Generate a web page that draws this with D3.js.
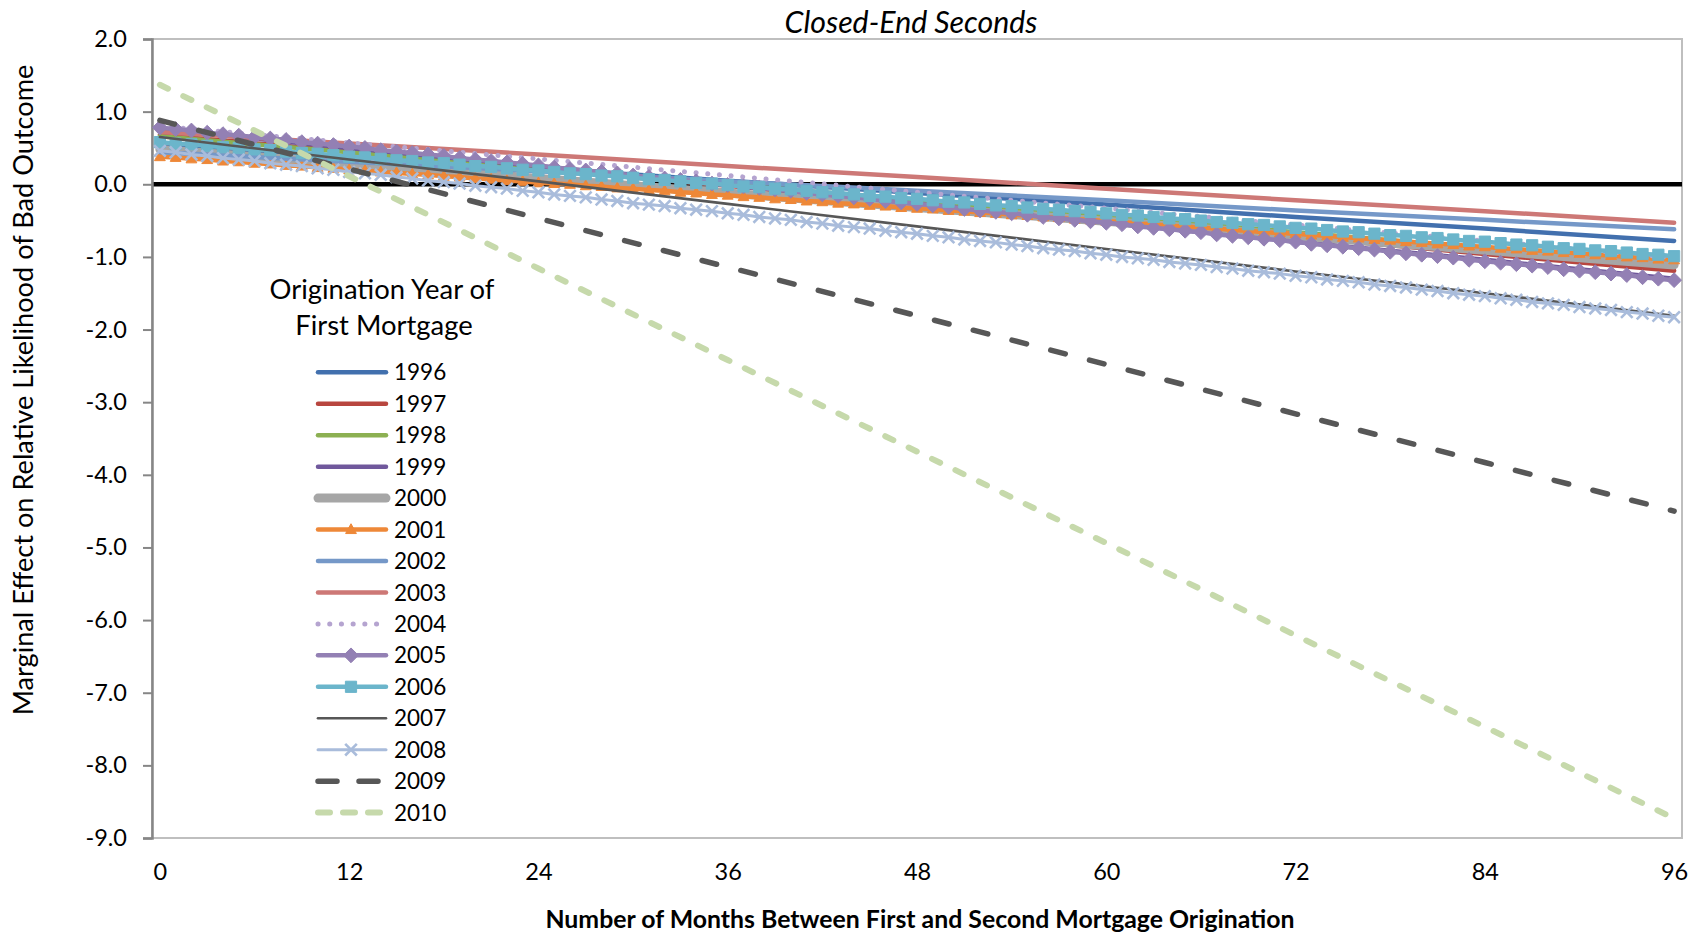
<!DOCTYPE html>
<html>
<head>
<meta charset="utf-8">
<script src="https://cdn.jsdelivr.net/npm/d3@7"></script>
<style>
  html, body { margin: 0; padding: 0; background: #fff; }
  svg { display: block; }
  text { font-family: Lato, "Open Sans", sans-serif; fill: #000; }
</style>
</head>
<body>
<svg id="chart" width="1701" height="933"></svg>
<script>
// ---------------- DATA ----------------
const chartTitle = "Closed-End Seconds";
const xTitle = "Number of Months Between First and Second Mortgage Origination";
const yTitle = "Marginal Effect on Relative Likelihood of Bad Outcome";
const legendTitle = ["Origination Year of", "First Mortgage"];

const monthsAll = d3.range(0, 97);                 // category positions 0..96
const months12 = [0, 12, 24, 36, 48, 60, 72, 84, 96];
const xTickLabels = ["0", "12", "24", "36", "48", "60", "72", "84", "96"];
const yTicks = [2, 1, 0, -1, -2, -3, -4, -5, -6, -7, -8, -9];
const yTickLabels = ["2.0", "1.0", "0.0", "-1.0", "-2.0", "-3.0", "-4.0", "-5.0", "-6.0", "-7.0", "-8.0", "-9.0"];

const years = ["1996","1997","1998","1999","2000","2001","2002","2003","2004","2005","2006","2007","2008","2009","2010"];

// values read at every 12 months (series without markers)
const v1996 = [0.55, 0.38, 0.22, 0.05, -0.12, -0.28, -0.45, -0.61, -0.78];
const v1997 = [0.68, 0.45, 0.21, -0.02, -0.26, -0.49, -0.72, -0.96, -1.19];
const v1998 = [0.66, 0.44, 0.22, 0.00, -0.22, -0.44, -0.66, -0.88, -1.10];
const v1999 = [0.76, 0.50, 0.25, -0.01, -0.27, -0.53, -0.79, -1.04, -1.30];
const v2000 = [0.48, 0.28, 0.08, -0.12, -0.32, -0.51, -0.71, -0.91, -1.11];
const v2002 = [0.44, 0.31, 0.18, 0.04, -0.09, -0.22, -0.36, -0.49, -0.62];
const v2003 = [0.72, 0.56, 0.41, 0.25, 0.10, -0.06, -0.22, -0.37, -0.53];
const v2004 = [0.80, 0.57, 0.35, 0.12, -0.11, -0.33, -0.56, -0.78, -1.01];
const v2007 = [0.65, 0.34, 0.04, -0.27, -0.58, -0.89, -1.20, -1.50, -1.81];
const v2009 = [0.88, 0.21, -0.47, -1.14, -1.81, -2.48, -3.16, -3.83, -4.50];
const v2010 = [1.37, 0.11, -1.16, -2.42, -3.68, -4.94, -6.21, -7.47, -8.73];

// monthly values (series drawn with a marker at every month)
const v2001 = [0.38,0.37,0.35,0.34,0.32,0.31,0.29,0.28,0.26,0.25,0.23,0.22,0.20,0.19,0.17,0.16,0.14,0.13,0.11,0.10,
  0.08,0.07,0.05,0.04,0.02,0.01,0.00,-0.02,-0.03,-0.05,-0.06,-0.08,-0.09,-0.11,-0.12,-0.14,-0.15,-0.17,-0.18,-0.20,
  -0.21,-0.23,-0.24,-0.26,-0.27,-0.29,-0.30,-0.32,-0.33,-0.34,-0.36,-0.37,-0.39,-0.40,-0.42,-0.43,-0.45,-0.46,-0.48,-0.49,
  -0.51,-0.52,-0.54,-0.55,-0.57,-0.58,-0.60,-0.61,-0.63,-0.64,-0.66,-0.67,-0.68,-0.70,-0.71,-0.73,-0.74,-0.76,-0.77,-0.79,
  -0.80,-0.82,-0.83,-0.85,-0.86,-0.88,-0.89,-0.91,-0.92,-0.94,-0.95,-0.97,-0.98,-1.00,-1.01,-1.03,-1.04];
const v2005 = [0.78,0.76,0.74,0.71,0.69,0.67,0.65,0.63,0.61,0.58,0.56,0.54,0.52,0.50,0.47,0.45,0.43,0.41,0.39,0.36,
  0.34,0.32,0.30,0.28,0.26,0.23,0.21,0.19,0.17,0.15,0.12,0.10,0.08,0.06,0.04,0.01,-0.01,-0.03,-0.05,-0.07,
  -0.09,-0.12,-0.14,-0.16,-0.18,-0.20,-0.23,-0.25,-0.27,-0.29,-0.31,-0.34,-0.36,-0.38,-0.40,-0.42,-0.45,-0.47,-0.49,-0.51,
  -0.53,-0.55,-0.58,-0.60,-0.62,-0.64,-0.66,-0.69,-0.71,-0.73,-0.75,-0.77,-0.79,-0.82,-0.84,-0.86,-0.88,-0.90,-0.93,-0.95,
  -0.97,-0.99,-1.01,-1.04,-1.06,-1.08,-1.10,-1.12,-1.14,-1.17,-1.19,-1.21,-1.23,-1.25,-1.28,-1.30,-1.32];
const v2006 = [0.58,0.56,0.55,0.53,0.51,0.50,0.48,0.47,0.45,0.43,0.42,0.40,0.38,0.37,0.35,0.33,0.32,0.30,0.29,0.27,
  0.25,0.24,0.22,0.20,0.19,0.17,0.15,0.14,0.12,0.11,0.09,0.07,0.06,0.04,0.02,0.01,-0.01,-0.03,-0.04,-0.06,
  -0.07,-0.09,-0.11,-0.12,-0.14,-0.16,-0.17,-0.19,-0.20,-0.22,-0.24,-0.25,-0.27,-0.29,-0.30,-0.32,-0.34,-0.35,-0.37,-0.38,
  -0.40,-0.42,-0.43,-0.45,-0.47,-0.48,-0.50,-0.52,-0.53,-0.55,-0.56,-0.58,-0.60,-0.61,-0.63,-0.65,-0.66,-0.68,-0.70,-0.71,
  -0.73,-0.74,-0.76,-0.78,-0.79,-0.81,-0.83,-0.84,-0.86,-0.88,-0.89,-0.91,-0.92,-0.94,-0.96,-0.97,-0.99];
const v2008 = [0.46,0.44,0.41,0.39,0.36,0.34,0.32,0.29,0.27,0.25,0.22,0.20,0.17,0.15,0.13,0.10,0.08,0.05,0.03,0.01,
  -0.02,-0.04,-0.06,-0.09,-0.11,-0.14,-0.16,-0.18,-0.21,-0.23,-0.26,-0.28,-0.30,-0.33,-0.35,-0.37,-0.40,-0.42,-0.45,-0.47,
  -0.49,-0.52,-0.54,-0.57,-0.59,-0.61,-0.64,-0.66,-0.68,-0.71,-0.73,-0.76,-0.78,-0.80,-0.83,-0.85,-0.88,-0.90,-0.92,-0.95,
  -0.97,-1.00,-1.02,-1.04,-1.07,-1.09,-1.11,-1.14,-1.16,-1.19,-1.21,-1.23,-1.26,-1.28,-1.31,-1.33,-1.35,-1.38,-1.40,-1.42,
  -1.45,-1.47,-1.50,-1.52,-1.54,-1.57,-1.59,-1.62,-1.64,-1.66,-1.69,-1.71,-1.73,-1.76,-1.78,-1.81,-1.83];

const seriesValues = [v1996, v1997, v1998, v1999, v2000, v2001, v2002, v2003, v2004, v2005, v2006, v2007, v2008, v2009, v2010];
const seriesMonths = [months12, months12, months12, months12, months12, monthsAll, months12, months12, months12, monthsAll, monthsAll, months12, monthsAll, months12, months12];

// ---------------- STYLES ----------------
const styles = {
  "1996": {color: "#4270AE", width: 4.5},
  "1997": {color: "#B8463F", width: 4.5},
  "1998": {color: "#8CB052", width: 4.5},
  "1999": {color: "#70589C", width: 4.5},
  "2000": {color: "#A6A6A6", width: 9},
  "2001": {color: "#EE8838", width: 4.5, marker: "triangle"},
  "2002": {color: "#7598C8", width: 4.5},
  "2003": {color: "#CD7876", width: 4.5},
  "2004": {color: "#B5A4D0", width: 5, dash: "0.1,11.6"},
  "2005": {color: "#9380B4", width: 4.5, marker: "diamond"},
  "2006": {color: "#6BB5CB", width: 4.5, marker: "square"},
  "2007": {color: "#575757", width: 2.6},
  "2008": {color: "#A9BCDB", width: 3, marker: "x"},
  "2009": {color: "#575757", width: 5.5, dash: "15,25"},
  "2010": {color: "#C6D9AB", width: 6, dash: "9,17"}
};

// ---------------- LAYOUT ----------------
const svg = d3.select("#chart");
const plot = {left: 152, right: 1682, top: 39, bottom: 838};

const x = d3.scalePoint().domain(monthsAll).range([plot.left, plot.right]).padding(0.5);
const y = d3.scaleLinear().domain([-9, 2]).range([plot.bottom, plot.top]);

function fitWidth(sel, target) {
  const w = sel.node().getComputedTextLength();
  const fs = parseFloat(sel.attr("font-size"));
  sel.attr("font-size", (fs * target / w).toFixed(2));
}

// plot frame
svg.append("rect")
  .attr("x", plot.left).attr("y", plot.top)
  .attr("width", plot.right - plot.left).attr("height", plot.bottom - plot.top)
  .attr("fill", "none").attr("stroke", "#BFBFBF").attr("stroke-width", 2);

// zero axis line
svg.append("line")
  .attr("x1", plot.left).attr("x2", plot.right)
  .attr("y1", y(0)).attr("y2", y(0))
  .attr("stroke", "#000").attr("stroke-width", 4.5);

// left axis
const yAxis = d3.axisLeft(y).tickValues(yTicks)
  .tickFormat(d => yTickLabels[yTicks.indexOf(d)])
  .tickSize(9).tickPadding(16);
const gy = svg.append("g").attr("transform", `translate(${plot.left},0)`).call(yAxis);
gy.select(".domain").attr("stroke", "#868686").attr("stroke-width", 2.5);
gy.selectAll(".tick line").attr("stroke", "#868686").attr("stroke-width", 2);
gy.selectAll(".tick text").attr("font-size", 23.5).attr("font-family", "Lato").attr("fill", "#000");

// x tick labels (category axis, labels at the bottom)
const xAxis = d3.axisBottom(x).tickValues(months12)
  .tickFormat(d => xTickLabels[months12.indexOf(d)])
  .tickSize(0).tickPadding(25);
const gx = svg.append("g").attr("transform", `translate(0,${plot.bottom})`).call(xAxis);
gx.select(".domain").remove();
gx.selectAll(".tick text").attr("font-size", 23.5).attr("font-family", "Lato").attr("fill", "#000");

// ---------------- SERIES ----------------
function markerPath(type) {
  if (type === "diamond") { const h = 7.4; return `M0,${-h}L${h},0L0,${h}L${-h},0Z`; }
  if (type === "square") { const s = 5.6; return `M${-s},${-s}H${s}V${s}H${-s}Z`; }
  if (type === "triangle") { return "M0,-5.8L5.4,4L-5.4,4Z"; }
  if (type === "x") { const s = 5.8; return `M${-s},${-s}L${s},${s}M${-s},${s}L${s},${-s}`; }
  return "";
}
function drawMarker(g, type, color, cx, cy) {
  const p = g.append("path").attr("d", markerPath(type)).attr("transform", `translate(${cx},${cy})`);
  if (type === "x") p.attr("fill", "none").attr("stroke", color).attr("stroke-width", 2.6);
  else p.attr("fill", color).attr("stroke", color).attr("stroke-width", 1);
}

const lineGen = d3.line().x(d => x(d[0])).y(d => y(d[1]));
const seriesG = svg.append("g");

years.forEach((yr, i) => {
  const st = styles[yr];
  const pts = seriesMonths[i].map((m, j) => [m, seriesValues[i][j]]);
  const g = seriesG.append("g").attr("class", "s" + yr);
  g.append("path")
    .attr("d", lineGen(pts))
    .attr("fill", "none")
    .attr("stroke", st.color)
    .attr("stroke-width", st.width)
    .attr("stroke-linecap", "round")
    .attr("stroke-linejoin", "round")
    .attr("stroke-dasharray", st.dash || null);
  if (st.marker) {
    pts.forEach(p => drawMarker(g, st.marker, st.color, x(p[0]), y(p[1])));
  }
});

// ---------------- LEGEND ----------------
const lg = svg.append("g");
const lt1 = lg.append("text").attr("x", 382).attr("y", 299).attr("text-anchor", "middle")
  .attr("font-size", 23).text(legendTitle[0]);
fitWidth(lt1, 225);
const lt2 = lg.append("text").attr("x", 384).attr("y", 335).attr("text-anchor", "middle")
  .attr("font-size", 23).text(legendTitle[1]);
lt2.attr("font-size", lt1.attr("font-size"));

years.forEach((yr, i) => {
  const st = styles[yr];
  const ly = 372.3 + i * 31.45;
  const x1 = 318, x2 = 386;
  lg.append("line")
    .attr("x1", x1).attr("x2", x2).attr("y1", ly).attr("y2", ly)
    .attr("stroke", st.color).attr("stroke-width", st.width)
    .attr("stroke-linecap", "round")
    .attr("stroke-dasharray", yr === "2009" ? "19,22" : yr === "2010" ? "12,13" : (st.dash || null));
  if (st.marker) drawMarker(lg, st.marker, st.color, 351, ly);
  lg.append("text").attr("x", 394).attr("y", ly).attr("dy", "0.36em")
    .attr("font-size", 22.5).text(yr);
});

// ---------------- TITLES ----------------
const t = svg.append("text").attr("x", 911).attr("y", 33).attr("text-anchor", "middle")
  .attr("font-style", "italic").attr("font-size", 24).text(chartTitle);
fitWidth(t, 253);

const xt = svg.append("text").attr("x", 920).attr("y", 928).attr("text-anchor", "middle")
  .attr("font-weight", "bold").attr("font-size", 24).text(xTitle);
fitWidth(xt, 749);

const yt = svg.append("text").attr("transform", "translate(33,390) rotate(-90)")
  .attr("text-anchor", "middle").attr("font-size", 24).text(yTitle);
fitWidth(yt, 651);
</script>
</body>
</html>
